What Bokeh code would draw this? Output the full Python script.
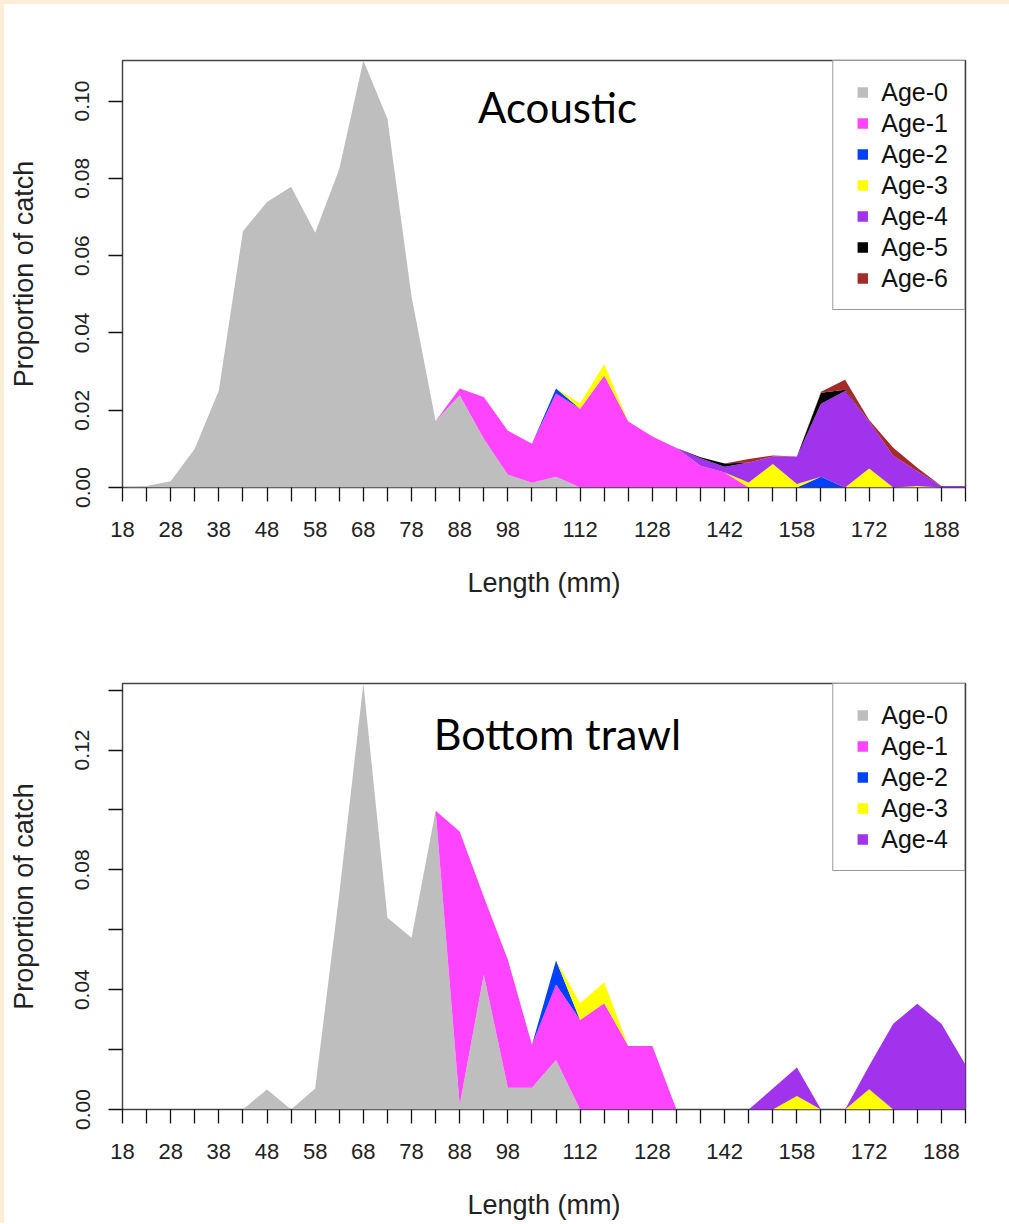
from bokeh.plotting import figure
from bokeh.models import (ColumnDataSource, Range1d, FixedTicker, Legend, LegendItem,
                          Label, PrintfTickFormatter)
from bokeh.layouts import column
from bokeh.core.properties import value
from bokeh.embed import file_html
from bokeh.resources import INLINE

# ---------------- data ----------------
lengths = [18, 23, 28, 33, 38, 43, 48, 53, 58, 63, 68, 73, 78, 83, 88, 93, 98, 103,
           108, 113, 118, 123, 128, 133, 138, 143, 148, 153, 158, 163, 168, 173, 178,
           183, 188, 193]
x_label_pos = [18, 28, 38, 48, 58, 68, 78, 88, 98, 113, 128, 143, 158, 173, 188]
x_label_txt = ["18", "28", "38", "48", "58", "68", "78", "88", "98", "112", "128",
               "142", "158", "172", "188"]

age_names = ["Age-0", "Age-1", "Age-2", "Age-3", "Age-4", "Age-5", "Age-6"]
age_colors = ["#BEBEBE", "#FF44FF", "#0040FF", "#FFFF00", "#A033EB", "#000000", "#A52A2A"]

# Acoustic survey (proportion of catch per length bin, by age)
ac_age0 = [0, 0.0004, 0.0016, 0.0100, 0.0251, 0.0663, 0.0739, 0.0778, 0.0659, 0.0824,
           0.1105, 0.0954, 0.0494, 0.0172, 0.0239, 0.0126, 0.0033, 0.0012, 0.0028, 0,
           0, 0, 0, 0, 0, 0, 0, 0, 0, 0, 0, 0, 0, 0, 0, 0]
ac_age1 = [0, 0, 0, 0, 0, 0, 0, 0, 0, 0, 0, 0, 0, 0, 0.0017, 0.0108, 0.0114, 0.0101,
           0.0215, 0.0204, 0.0290, 0.0171, 0.0132, 0.0102, 0.0056, 0.0039, 0, 0, 0, 0,
           0, 0, 0, 0, 0, 0]
ac_age2 = [0, 0, 0, 0, 0, 0, 0, 0, 0, 0, 0, 0, 0, 0, 0, 0, 0, 0, 0.0013, 0, 0, 0, 0,
           0, 0, 0, 0, 0, 0, 0.0028, 0, 0, 0, 0, 0, 0]
ac_age3 = [0, 0, 0, 0, 0, 0, 0, 0, 0, 0, 0, 0, 0, 0, 0, 0, 0, 0, 0, 0.0014, 0.0029, 0,
           0, 0, 0, 0, 0.0013, 0.0061, 0.0009, 0, 0, 0.0049, 0, 0.0004, 0, 0]
ac_age4 = [0, 0, 0, 0, 0, 0, 0, 0, 0, 0, 0, 0, 0, 0, 0, 0, 0, 0, 0, 0, 0, 0, 0, 0,
           0.0020, 0.0015, 0.0052, 0.0019, 0.0071, 0.0189, 0.0250, 0.0122, 0.0082,
           0.0038, 0.0004, 0.0004]
ac_age5 = [0, 0, 0, 0, 0, 0, 0, 0, 0, 0, 0, 0, 0, 0, 0, 0, 0, 0, 0, 0, 0, 0, 0, 0,
           0.0002, 0.0008, 0, 0, 0, 0.0028, 0.0003, 0, 0, 0, 0, 0]
ac_age6 = [0, 0, 0, 0, 0, 0, 0, 0, 0, 0, 0, 0, 0, 0, 0, 0, 0, 0, 0, 0, 0, 0, 0, 0,
           0, 0, 0.0009, 0.0003, 0, 0.0003, 0.0026, 0.0004, 0.0021, 0.0009, 0, 0]

# Bottom trawl survey
bt_age0 = [0, 0, 0, 0, 0, 0, 0.0067, 0, 0.0070, 0.0720, 0.1422, 0.0640, 0.0573, 0.0997,
           0.0015, 0.0450, 0.0073, 0.0073, 0.0165, 0, 0, 0, 0, 0, 0, 0, 0, 0, 0, 0, 0,
           0, 0, 0, 0, 0]
bt_age1 = [0, 0, 0, 0, 0, 0, 0, 0, 0, 0, 0, 0, 0, 0, 0.0913, 0.0260, 0.0427, 0.0143,
           0.0252, 0.0299, 0.0355, 0.0212, 0.0212, 0, 0, 0, 0, 0, 0, 0, 0, 0, 0, 0, 0, 0]
bt_age2 = [0, 0, 0, 0, 0, 0, 0, 0, 0, 0, 0, 0, 0, 0, 0, 0, 0, 0, 0.0080, 0, 0, 0, 0,
           0, 0, 0, 0, 0, 0, 0, 0, 0, 0, 0, 0, 0]
bt_age3 = [0, 0, 0, 0, 0, 0, 0, 0, 0, 0, 0, 0, 0, 0, 0, 0, 0, 0, 0, 0.0056, 0.0069, 0,
           0, 0, 0, 0, 0, 0, 0.0045, 0, 0, 0.0068, 0, 0, 0, 0]
bt_age4 = [0, 0, 0, 0, 0, 0, 0, 0, 0, 0, 0, 0, 0, 0, 0, 0, 0, 0, 0, 0, 0, 0, 0, 0, 0,
           0, 0, 0.0070, 0.0095, 0, 0, 0.0078, 0.0286, 0.0353, 0.0286, 0.0149]

acoustic = [ac_age0, ac_age1, ac_age2, ac_age3, ac_age4, ac_age5, ac_age6]
trawl = [bt_age0, bt_age1, bt_age2, bt_age3, bt_age4]

TICK_FONT = "Liberation Sans"


def make_panel(series, y_major, y_minor, border_top, border_bottom, frame_h):
    ages = age_names[:len(series)]
    cols = age_colors[:len(series)]
    data = {"x": lengths}
    for a, s in zip(ages, series):
        data[a] = s
    src = ColumnDataSource(data)
    totals = [sum(v) for v in zip(*series)]
    p = figure(frame_width=843, frame_height=frame_h,
               x_range=Range1d(lengths[0], lengths[-1]),
               y_range=Range1d(0, max(totals)),
               output_backend="svg", toolbar_location=None,
               min_border_left=118, min_border_right=44,
               min_border_top=border_top, min_border_bottom=border_bottom,
               background_fill_color="white", border_fill_color="white")
    p.grid.visible = False
    p.outline_line_color = "#444444"
    p.outline_line_width = 1.5

    # stacked areas (one band per age class)
    p.varea_stack(stackers=ages, x="x", color=cols, source=src)

    # legend markers
    items = []
    for a, c in zip(ages, cols):
        r = p.scatter(x="x", y=a, source=src, marker="square", size=0,
                      fill_color=c, line_color=None)
        items.append(LegendItem(label=value(a), renderers=[r]))
    leg = Legend(items=items, location="top_right", margin=0, padding=16, spacing=1,
                 glyph_width=26, glyph_height=30, label_standoff=6,
                 label_text_font=TICK_FONT, label_text_font_size="25px",
                 label_text_color="#111111",
                 border_line_color="#333333", border_line_width=1.5,
                 background_fill_color="white", background_fill_alpha=1)
    p.add_layout(leg)

    # x axis
    xa = p.xaxis[0]
    minor_x = [v for v in lengths if v not in x_label_pos]
    xa.ticker = FixedTicker(ticks=x_label_pos, minor_ticks=minor_x)
    xa.major_label_overrides = dict(zip(x_label_pos, x_label_txt))
    xa.axis_line_color = None
    xa.major_tick_in = 0
    xa.major_tick_out = 14
    xa.minor_tick_in = 0
    xa.minor_tick_out = 14
    xa.major_tick_line_color = "#111111"
    xa.minor_tick_line_color = "#111111"
    xa.major_tick_line_width = 1.3
    xa.minor_tick_line_width = 1.3
    xa.major_label_text_font = TICK_FONT
    xa.major_label_text_font_size = "22px"
    xa.major_label_text_color = "#222222"
    xa.major_label_standoff = 20
    xa.axis_label = "Length (mm)"
    xa.axis_label_text_font = TICK_FONT
    xa.axis_label_text_font_style = "normal"
    xa.axis_label_text_font_size = "27px"
    xa.axis_label_text_color = "#222222"
    xa.axis_label_standoff = 28

    # y axis
    ya = p.yaxis[0]
    ya.ticker = FixedTicker(ticks=y_major, minor_ticks=y_minor)
    ya.formatter = PrintfTickFormatter(format="%.2f")
    ya.axis_line_color = None
    ya.major_tick_in = 0
    ya.major_tick_out = 14
    ya.minor_tick_in = 0
    ya.minor_tick_out = 14
    ya.major_tick_line_color = "#111111"
    ya.minor_tick_line_color = "#111111"
    ya.major_tick_line_width = 1.3
    ya.minor_tick_line_width = 1.3
    ya.major_label_orientation = "vertical"
    ya.major_label_text_font = TICK_FONT
    ya.major_label_text_font_size = "21px"
    ya.major_label_text_color = "#222222"
    ya.major_label_standoff = 19
    ya.axis_label = "Proportion of catch"
    ya.axis_label_text_font = TICK_FONT
    ya.axis_label_text_font_style = "normal"
    ya.axis_label_text_font_size = "27px"
    ya.axis_label_text_color = "#222222"
    ya.axis_label_standoff = 34

    return p


p1 = make_panel(acoustic, y_major=[0.0, 0.02, 0.04, 0.06, 0.08, 0.10], y_minor=[],
                border_top=56, border_bottom=120, frame_h=427)
p1.add_layout(Label(x=435, y=381, x_units="screen", y_units="screen", text="Acoustic",
                    text_font="Lato", text_font_size="42px", text_align="center",
                    text_baseline="alphabetic", text_color="black"))

p2 = make_panel(trawl, y_major=[0.0, 0.04, 0.08, 0.12], y_minor=[0.02, 0.06, 0.10, 0.14],
                border_top=76, border_bottom=114, frame_h=426)
p2.add_layout(Label(x=435, y=376, x_units="screen", y_units="screen", text="Bottom trawl",
                    text_font="Lato", text_font_size="43px", text_align="center",
                    text_baseline="alphabetic", text_color="black"))

layout = column(p1, p2, spacing=0,
                styles={"border-left": "4px solid #FAEED6",
                        "border-top": "4px solid #FAEED6",
                        "background-color": "white"})

open("out.html", "w").write(file_html(layout, INLINE))
